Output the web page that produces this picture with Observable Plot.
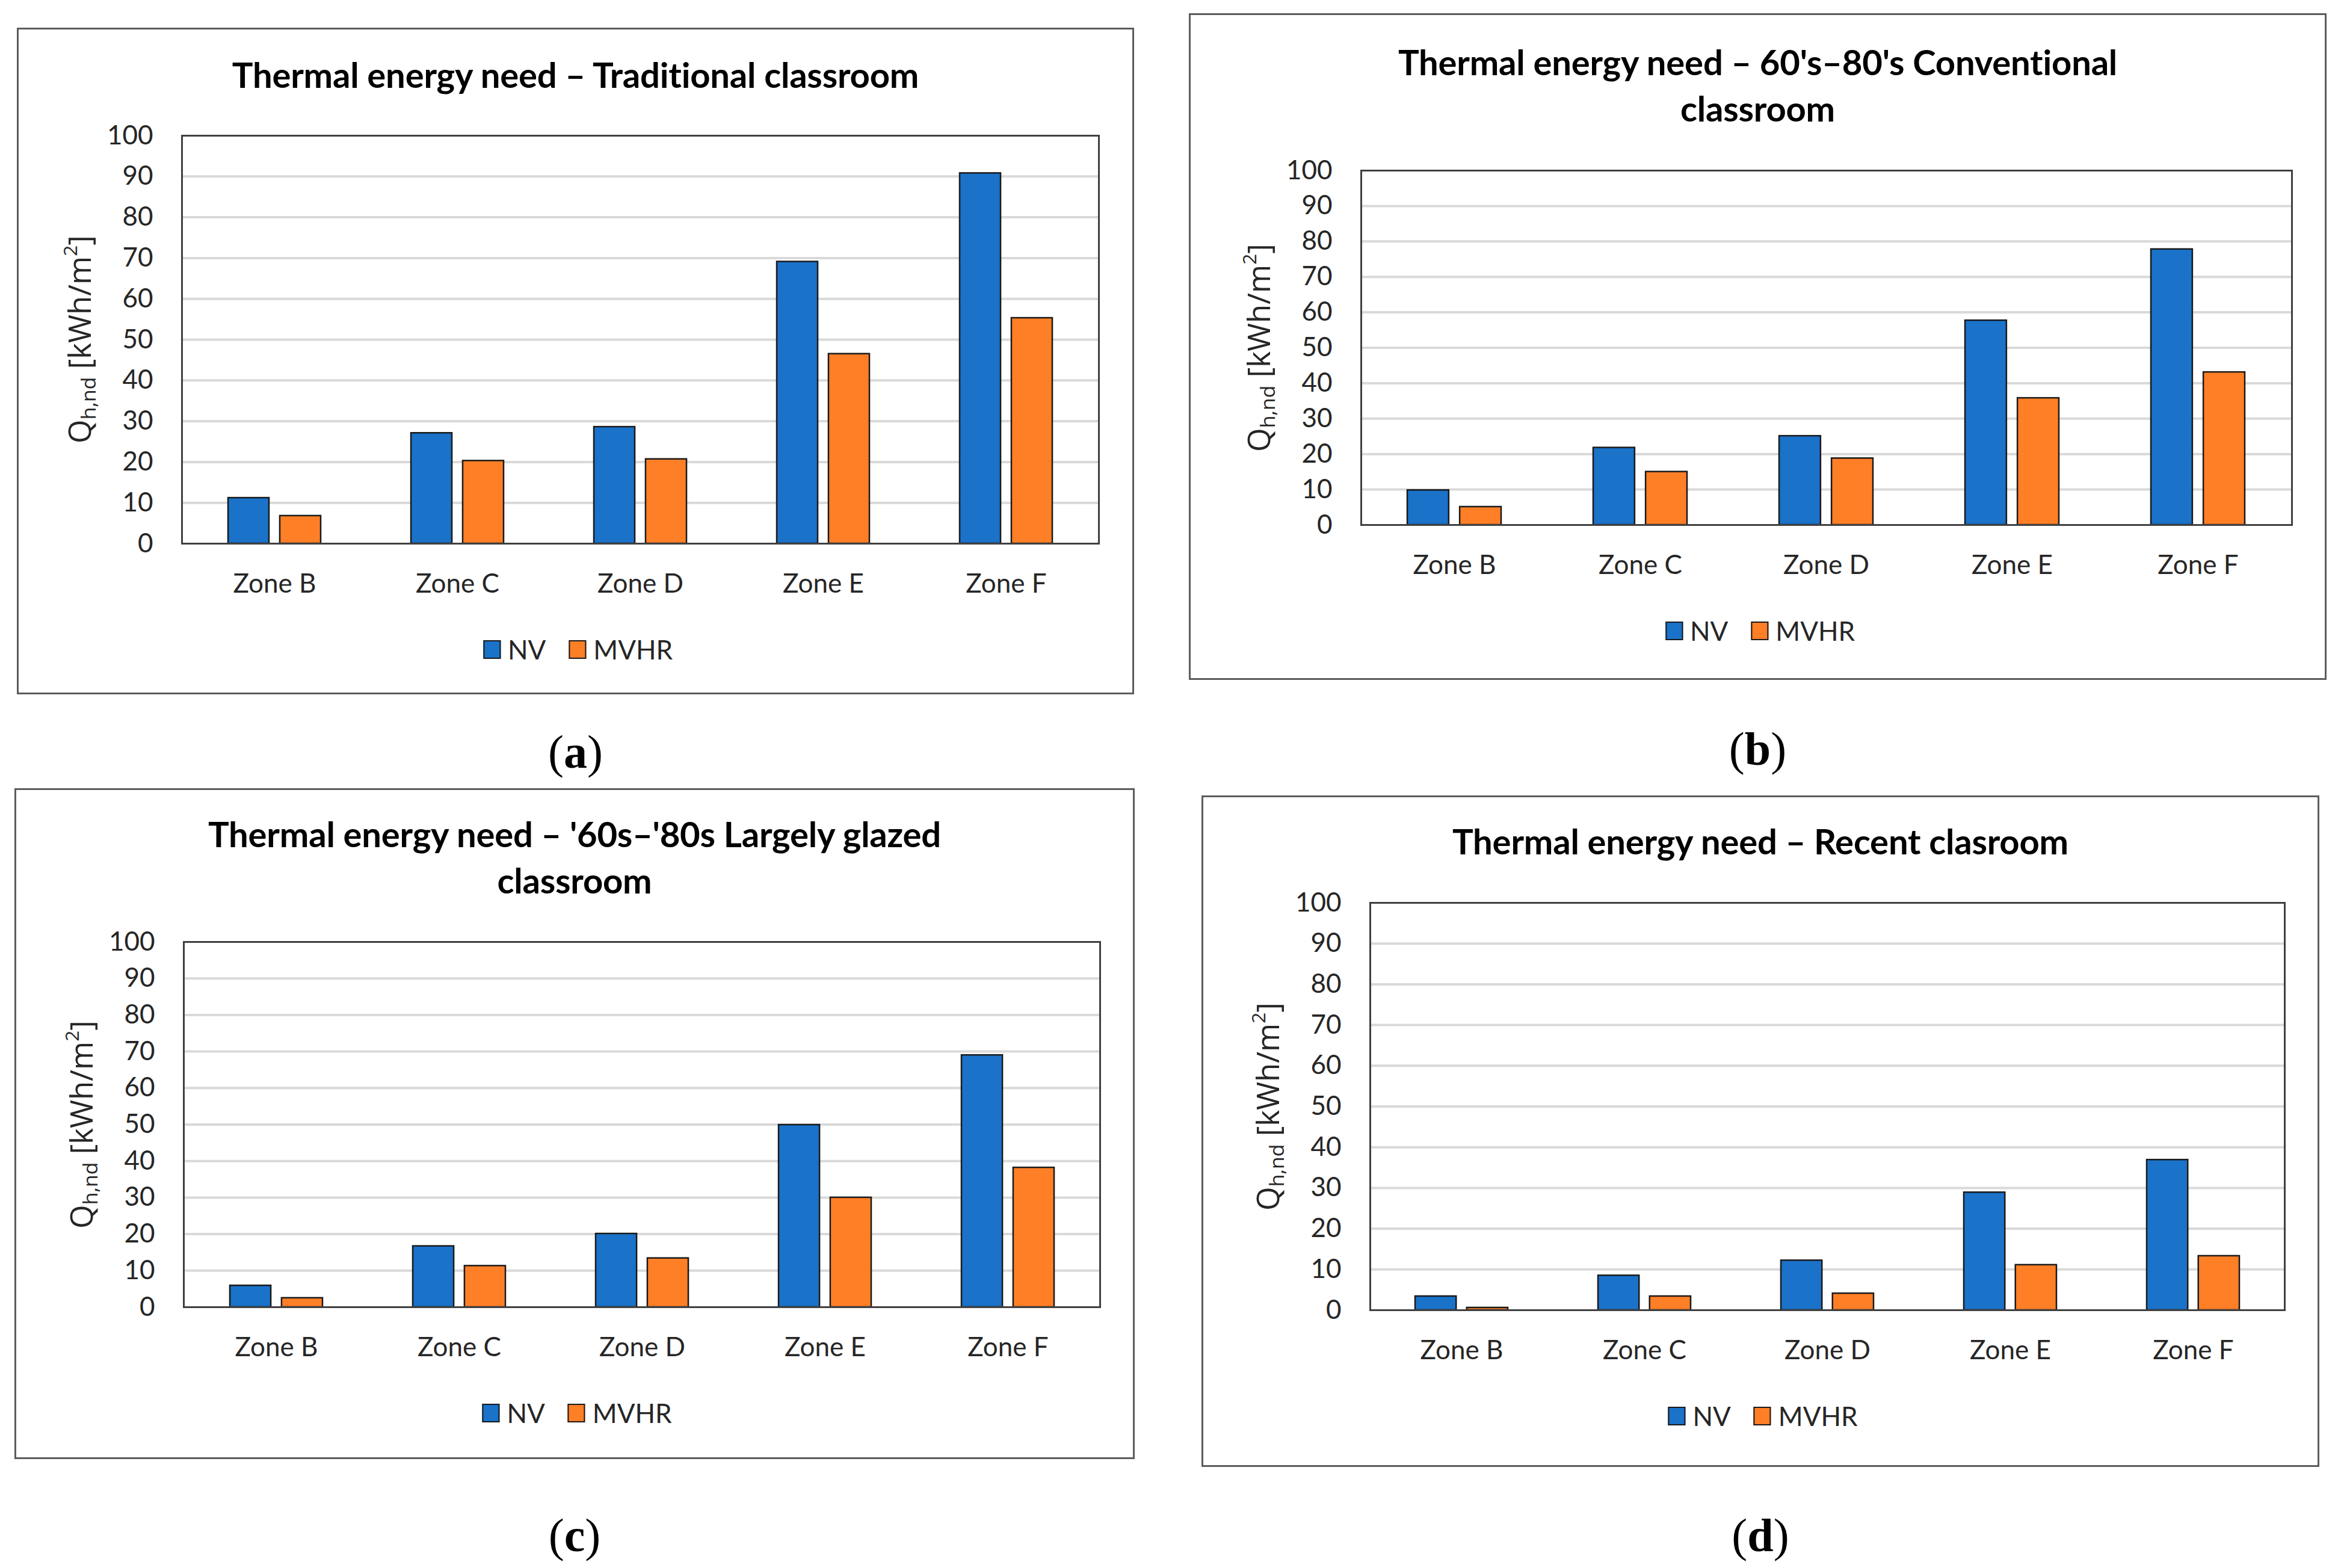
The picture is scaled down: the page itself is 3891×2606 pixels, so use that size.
<!DOCTYPE html>
<html>
<head>
<meta charset="utf-8">
<script src="https://cdn.jsdelivr.net/npm/d3@7"></script>
<script src="https://cdn.jsdelivr.net/npm/@observablehq/plot@0.6"></script>
<style>
  html, body { margin: 0; padding: 0; background: #ffffff; }
  #root { position: relative; width: 3891px; height: 2606px; background: #fff; overflow: hidden; }
  .box { position: absolute; box-sizing: border-box; border: 3px solid #5c5c5c; background: #fff; }
  .title { position: absolute; text-align: center; font-family: Lato, "Open Sans", sans-serif; font-weight: 700;
           font-size: 58px; line-height: 77px; color: #000; white-space: nowrap; letter-spacing: -0.2px; }
  .ylab { position: absolute; font-family: "Open Sans", "Noto Sans", sans-serif; font-size: 51px; color: #262626;
          white-space: nowrap; transform: translate(-50%, -50%) rotate(-90deg); line-height: 1; }
  .ylab sub { font-size: 0.66em; vertical-align: -0.25em; }
  .ylab sup { font-size: 0.62em; vertical-align: 0.7em; }
  .legend { position: absolute; display: flex; align-items: center; transform: translate(-50%, -50%);
            font-family: Lato, "Open Sans", sans-serif; font-size: 44px; color: #262626; white-space: nowrap; }
  .legend .item { display: flex; align-items: center; margin: 0 19px; }
  .legend .sw { width: 25px; height: 27px; border: 2.5px solid #1a1a1a; margin-right: 12px; }
  .cap { position: absolute; transform: translate(-50%, -50%); font-family: "Liberation Serif", "DejaVu Serif", serif;
         font-size: 78px; color: #000; line-height: 1; }
  .cap b { font-weight: 700; }
  .chart { position: absolute; overflow: visible; }
</style>
</head>
<body>
<div id="root"></div>
<script>
// ---------- data ----------
const zones = ["Zone B", "Zone C", "Zone D", "Zone E", "Zone F"];
const series = ["NV", "MVHR"];
const seriesColors = ["#1a72c9", "#ff7f27"];
const yTicks = [0, 10, 20, 30, 40, 50, 60, 70, 80, 90, 100];

const titleA = ["Thermal energy need – Traditional classroom"];
const nvA   = [11.2, 27.1, 28.6, 69.1, 90.8];
const mvhrA = [6.8, 20.3, 20.7, 46.5, 55.3];

const titleB = ["Thermal energy need – 60's–80's Conventional", "classroom"];
const nvB   = [9.8, 21.8, 25.1, 57.7, 77.8];
const mvhrB = [5.1, 15.0, 18.8, 35.8, 43.1];

const titleC = ["Thermal energy need – '60s–'80s Largely glazed", "classroom"];
const nvC   = [5.9, 16.7, 20.1, 49.9, 69.0];
const mvhrC = [2.5, 11.3, 13.4, 30.0, 38.2];

const titleD = ["Thermal energy need – Recent clasroom"];
const nvD   = [3.4, 8.5, 12.2, 28.9, 36.9];
const mvhrD = [0.6, 3.4, 4.1, 11.1, 13.3];

const captions = ["a", "b", "c", "d"];

// ---------- layout (pixels) ----------
const layout = [
  { box: {l: 28,   t: 46,   r: 1885, b: 1154}, plot: {l: 302,  t: 225,  r: 1826, b: 903},  titleBase: 145,  capY: 1250 },
  { box: {l: 1976, t: 22,   r: 3867, b: 1130}, plot: {l: 2262, t: 283,  r: 3809, b: 872},  titleBase: 124,  capY: 1245 },
  { box: {l: 24,   t: 1310, r: 1886, b: 2425}, plot: {l: 305,  t: 1565, r: 1828, b: 2172}, titleBase: 1407, capY: 2552 },
  { box: {l: 1997, t: 1322, r: 3855, b: 2438}, plot: {l: 2277, t: 1500, r: 3797, b: 2177}, titleBase: 1419, capY: 2552 }
];
const panelData = [
  {title: titleA, nv: nvA, mvhr: mvhrA},
  {title: titleB, nv: nvB, mvhr: mvhrB},
  {title: titleC, nv: nvC, mvhr: mvhrC},
  {title: titleD, nv: nvD, mvhr: mvhrD}
];

const root = document.getElementById("root");
function el(tag, cls, css, html) {
  const e = document.createElement(tag);
  if (cls) e.className = cls;
  Object.assign(e.style, css || {});
  if (html != null) e.innerHTML = html;
  root.appendChild(e);
  return e;
}

const padInner = 0.495, gap = 18;

panelData.forEach((pd, k) => {
  const L = layout[k];
  const bx = L.box, pl = L.plot;
  const boxCx = (bx.l + bx.r) / 2;

  el("div", "box", {left: bx.l + "px", top: bx.t + "px", width: (bx.r - bx.l) + "px", height: (bx.b - bx.t) + "px"});

  // title (baseline of first line at titleBase)
  el("div", "title", {left: bx.l + "px", width: (bx.r - bx.l) + "px", top: (L.titleBase - 60) + "px"},
     pd.title.join("<br>"));

  const rows = zones.map((z, i) => ({zone: z, nv: pd.nv[i], mvhr: pd.mvhr[i]}));
  const plotW = pl.r - pl.l;
  const bw = plotW / zones.length * (1 - padInner);
  const inset = (bw + gap) / 2;
  const mTop = 40, mBottom = 110;

  const chart = Plot.plot({
    width: bx.r - bx.l,
    height: (pl.b - pl.t) + mTop + mBottom,
    marginLeft: pl.l - bx.l,
    marginRight: bx.r - pl.r,
    marginTop: mTop,
    marginBottom: mBottom,
    style: {fontFamily: "Lato, 'Open Sans', sans-serif", fontSize: "44px", color: "#262626", background: "transparent", overflow: "visible"},
    x: {domain: zones, paddingInner: padInner, paddingOuter: padInner / 2, label: null, tickSize: 0, tickPadding: 50},
    y: {domain: [0, 100], ticks: yTicks, label: null, tickSize: 0, tickPadding: 48},
    marks: [
      Plot.ruleY(yTicks.slice(1, -1), {stroke: "#d9d9d9", strokeWidth: 4}),
      Plot.barY(rows, {x: "zone", y: "nv", fill: seriesColors[0], stroke: "#1a1a1a", strokeWidth: 2.5, insetRight: inset}),
      Plot.barY(rows, {x: "zone", y: "mvhr", fill: seriesColors[1], stroke: "#1a1a1a", strokeWidth: 2.5, insetLeft: inset}),
      Plot.frame({stroke: "#404040", strokeWidth: 3})
    ]
  });
  chart.classList.add("chart");
  chart.style.left = bx.l + "px";
  chart.style.top = (pl.t - mTop) + "px";
  root.appendChild(chart);

  // y axis label
  el("div", "ylab", {left: (pl.l - 170) + "px", top: ((pl.t + pl.b) / 2) + "px"},
     "Q<sub>h,nd</sub> [kWh/m<sup>2</sup>]");

  // legend
  const lg = el("div", "legend", {left: (boxCx + 4) + "px", top: (pl.b + 176) + "px"});
  lg.innerHTML = series.map((s, i) =>
    `<span class="item"><span class="sw" style="background:${seriesColors[i]}"></span>${s}</span>`).join("");

  // caption
  el("div", "cap", {left: boxCx + "px", top: L.capY + "px"}, `(<b>${captions[k]}</b>)`);
});
</script>
</body>
</html>
